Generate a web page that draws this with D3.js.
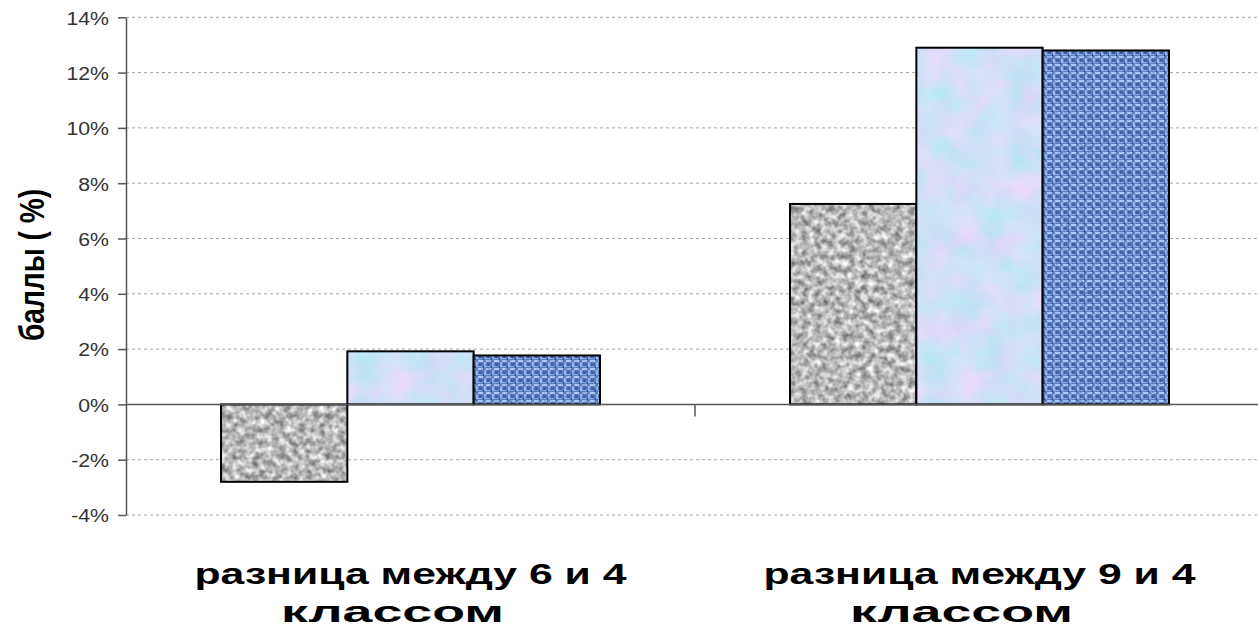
<!DOCTYPE html>
<html>
<head>
<meta charset="utf-8">
<script src="https://cdn.jsdelivr.net/npm/d3@7/dist/d3.min.js"></script>
<style>
  html, body { margin: 0; padding: 0; background: #fff; }
  svg { display: block; }
  filter { color-interpolation-filters: sRGB; }
</style>
</head>
<body>
<svg id="chart" width="1258" height="629"></svg>
<script>
// ---- data ----
const categories = ["разница между 6 и 4 классом", "разница между 9 и 4 классом"];
const categoryLines = [["разница между 6 и 4", "классом"], ["разница между 9 и 4", "классом"]];
const seriesNames = ["Ряд 1", "Ряд 2", "Ряд 3"];
const series1 = [-0.028, 0.0725];
const series2 = [0.0192, 0.129];
const series3 = [0.0177, 0.128];
const yTicks = [-0.04, -0.02, 0, 0.02, 0.04, 0.06, 0.08, 0.10, 0.12, 0.14];
const yTitle = "баллы ( %)";

const seriesValues = [series1, series2, series3];

const W = 1258, H = 629;
const plot = { left: 126, right: 1264, top: 17.3, bottom: 515 };

const svg = d3.select("#chart");
const defs = svg.append("defs");

function mkFilter(id) {
  return defs.append("filter").attr("id", id).attr("x", 0).attr("y", 0).attr("width", 1).attr("height", 1)
    .attr("color-interpolation-filters", "sRGB");
}

// granite grey texture
const fg = mkFilter("tex0");
fg.append("feTurbulence").attr("type", "fractalNoise").attr("baseFrequency", 0.15).attr("numOctaves", 2).attr("seed", 7).attr("result", "n");
fg.append("feColorMatrix").attr("in", "n").attr("type", "matrix")
  .attr("values", "0.85 0 0 0 0.30  0.85 0 0 0 0.30  0.85 0 0 0 0.31  0 0 0 0 1").attr("result", "c");
fg.append("feComposite").attr("in", "c").attr("in2", "SourceGraphic").attr("operator", "in");

// light blue / pink marble texture
const fm = mkFilter("tex1");
fm.append("feTurbulence").attr("type", "fractalNoise").attr("baseFrequency", 0.035).attr("numOctaves", 4).attr("seed", 5).attr("result", "n");
fm.append("feColorMatrix").attr("in", "n").attr("type", "matrix")
  .attr("values", "0.22 -0.18 0 0 0.80  -0.10 0 0 0 0.93  0.03 -0.04 0 0 0.97  0 0 0 0 1").attr("result", "c");
fm.append("feComposite").attr("in", "c").attr("in2", "SourceGraphic").attr("operator", "in");

// blue woven texture
const pw = defs.append("pattern").attr("id", "weave").attr("patternUnits", "userSpaceOnUse")
  .attr("width", 8).attr("height", 8);
pw.append("rect").attr("width", 8).attr("height", 8).attr("fill", "#5f82c4");
pw.append("rect").attr("x", 0).attr("y", 0).attr("width", 5).attr("height", 2).attr("fill", "#b0c9f3");
pw.append("rect").attr("x", 6).attr("y", 2).attr("width", 2).attr("height", 5).attr("fill", "#9cbbee");
pw.append("rect").attr("x", 1).attr("y", 3).attr("width", 3).attr("height", 3).attr("fill", "#4263a8");
pw.append("rect").attr("x", 5).attr("y", 6).attr("width", 1).attr("height", 2).attr("fill", "#2b4a8c");
pw.append("rect").attr("x", 0).attr("y", 6).attr("width", 4).attr("height", 1).attr("fill", "#8eaee4");
const fw = mkFilter("tex2");
fw.append("feTurbulence").attr("type", "fractalNoise").attr("baseFrequency", 0.25).attr("numOctaves", 2).attr("seed", 11).attr("result", "n");
fw.append("feColorMatrix").attr("in", "n").attr("type", "matrix")
  .attr("values", "0 0 0 0 0.2  0 0 0 0 0.3  0 0 0 0 0.6  1.0 0 0 0 -0.45").attr("result", "c");
fw.append("feComposite").attr("in", "c").attr("in2", "SourceGraphic").attr("operator", "in").attr("result", "cc");
fw.append("feMerge").call(m => { m.append("feMergeNode").attr("in", "SourceGraphic"); m.append("feMergeNode").attr("in", "cc"); });

const fills = ["#b5b5b5", "#d5e2f8", "url(#weave)"];
const filters = ["url(#tex0)", "url(#tex1)", "url(#tex2)"];

// ---- scales ----
const x0 = d3.scaleBand().domain(categories).range([plot.left, plot.right]).paddingInner(0).paddingOuter(0);
const bw = x0.bandwidth();
const groupW = bw * 0.666;
const x1 = d3.scaleBand().domain(seriesNames).range([(bw - groupW) / 2, (bw + groupW) / 2]).padding(0);
const y = d3.scaleLinear().domain([-0.04, 0.14]).range([plot.bottom, plot.top]);

// ---- gridlines ----
svg.append("g").selectAll("line").data(yTicks.filter(t => t !== 0)).join("line")
  .attr("x1", plot.left).attr("x2", W)
  .attr("y1", d => y(d)).attr("y2", d => y(d))
  .attr("stroke", "#a6a6a6").attr("stroke-width", 1).attr("stroke-dasharray", "3,3");

// ---- bars ----
const groups = svg.append("g").selectAll("g").data(categories).join("g")
  .attr("transform", d => `translate(${x0(d)},0)`);
groups.each(function (cat, ci) {
  const g = d3.select(this);
  seriesNames.forEach((s, si) => {
    const v = seriesValues[si][ci];
    const x = x1(s), w = x1.bandwidth();
    const yTop = y(Math.max(0, v)), yBot = y(Math.min(0, v));
    g.append("rect").attr("x", x).attr("y", yTop).attr("width", w).attr("height", yBot - yTop)
      .attr("fill", fills[si]).attr("filter", filters[si]);
    g.append("rect").attr("x", x).attr("y", yTop).attr("width", w).attr("height", yBot - yTop)
      .attr("fill", "none").attr("stroke", "#000").attr("stroke-width", 2);
  });
});

// ---- zero line and category ticks ----
svg.append("line").attr("x1", plot.left).attr("x2", W).attr("y1", y(0)).attr("y2", y(0))
  .attr("stroke", "#555").attr("stroke-width", 1.5);
svg.append("g").selectAll("line").data(categories.slice(1)).join("line")
  .attr("x1", d => x0(d)).attr("x2", d => x0(d)).attr("y1", y(0)).attr("y2", y(0) + 12)
  .attr("stroke", "#555").attr("stroke-width", 1.5);

// ---- y axis ----
const yAxis = d3.axisLeft(y).tickValues(yTicks).tickFormat(d => Math.round(d * 100) + "%").tickSize(8).tickSizeOuter(0);
const ya = svg.append("g").attr("transform", `translate(${plot.left},0)`).call(yAxis);
ya.select(".domain").attr("stroke", "#555").attr("stroke-width", 1.5);
ya.selectAll(".tick line").attr("stroke", "#555").attr("stroke-width", 1.5);
ya.selectAll(".tick text")
  .attr("x", -17 / 1.12).attr("dy", "0.36em")
  .attr("transform", "scale(1.12,1)")
  .attr("fill", "#333")
  .style("font-family", "'Liberation Sans', Arial, sans-serif")
  .style("font-size", "19px");

// ---- y title ----
svg.append("text")
  .attr("transform", "translate(44,265) rotate(-90)")
  .attr("text-anchor", "middle")
  .attr("textLength", 152).attr("lengthAdjust", "spacingAndGlyphs")
  .style("font-family", "'Liberation Sans', Arial, sans-serif")
  .style("font-weight", "bold").style("font-size", "35px").attr("fill", "#000")
  .text(yTitle);

// ---- x category labels ----
const xl = svg.append("g");
categories.forEach((c, i) => {
  const cx = x0(c) + bw / 2;
  const lines = categoryLines[i];
  xl.append("text").attr("x", cx).attr("y", 584).attr("text-anchor", "middle")
    .attr("textLength", 432).attr("lengthAdjust", "spacingAndGlyphs")
    .style("font-family", "'Liberation Sans', Arial, sans-serif")
    .style("font-weight", "bold").style("font-size", "30px").text(lines[0]);
  xl.append("text").attr("x", cx - 18).attr("y", 622).attr("text-anchor", "middle")
    .attr("textLength", 223).attr("lengthAdjust", "spacingAndGlyphs")
    .style("font-family", "'Liberation Sans', Arial, sans-serif")
    .style("font-weight", "bold").style("font-size", "29px").text(lines[1]);
});
</script>
</body>
</html>
